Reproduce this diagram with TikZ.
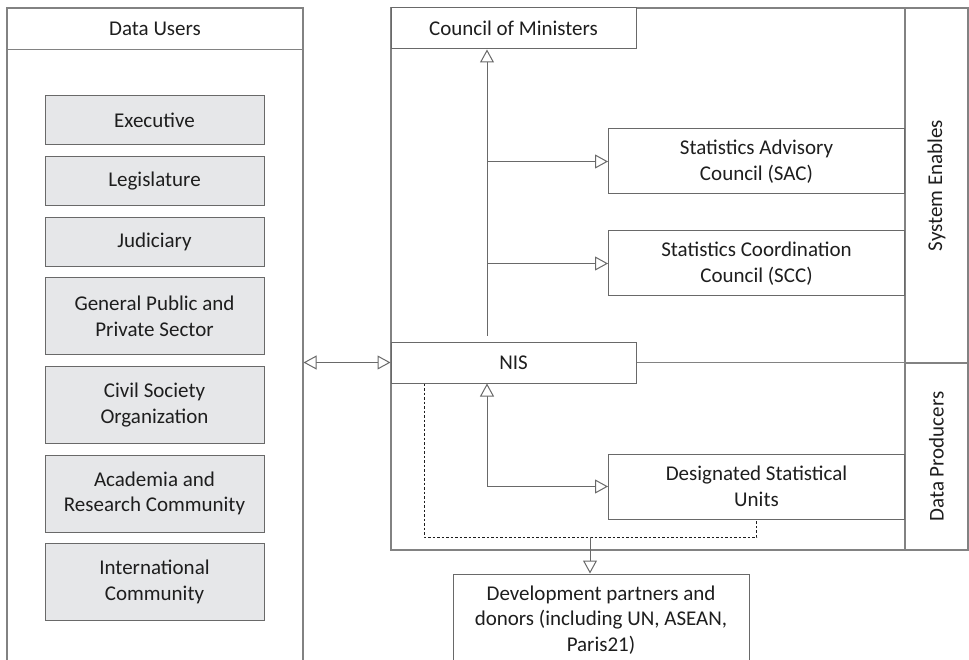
\documentclass[tikz,border=0pt]{standalone}
\usepackage{fontspec}
\setmainfont{Carlito}
\usetikzlibrary{arrows.meta, positioning, calc}
\definecolor{framegray}{RGB}{130,130,130}
\definecolor{edgegray}{RGB}{105,105,105}
\definecolor{usergray}{RGB}{230,231,233}
\definecolor{inkgray}{RGB}{30,30,30}

\begin{document}
\begin{tikzpicture}[
    x=1pt, y=-1pt,
    node distance=10.6pt,
    font=\fontsize{21}{25.5}\selectfont,
    text=inkgray,
    % Block styles
    panel/.style={
        rectangle, draw=framegray, fill=white,
        line width=1.1pt, inner sep=0pt
    },
    whitebox/.style={
        rectangle, draw=edgegray, fill=white,
        align=center, line width=1pt, inner sep=2pt
    },
    userbox/.style={
        rectangle, draw=edgegray, fill=usergray,
        minimum width=219pt, minimum height=49pt,
        align=center, line width=1pt, inner sep=2pt
    },
    doublebox/.style={
        userbox, minimum height=77pt
    },
    striplabel/.style={
        rectangle, draw=framegray, rotate=90,
        minimum height=63pt, line width=1.1pt, inner sep=0pt
    },
    openarrow/.style={
        -{Triangle[open, length=13pt, width=14pt, fill=white]},
        draw=edgegray, line width=1pt
    },
    biarrow/.style={
        {Triangle[open, length=13pt, width=14pt, fill=white]}-{Triangle[open, length=13pt, width=14pt, fill=white]},
        draw=edgegray, line width=1pt
    },
    plainline/.style={
        draw=edgegray, line width=1pt
    },
    dotline/.style={
        draw=inkgray, line width=0.9pt, dash pattern=on 2.5pt off 2pt
    },
]
\clip (0,0) rectangle (969,660);

% ===== DATA USERS PANEL =====
\node[panel, minimum width=296pt, minimum height=680pt] (users) at (155,348) {};
\node[minimum width=296pt, minimum height=41pt] (usershead) at (155,28.5) {Data Users};
\draw[panel] (usershead.south west) -- (usershead.south east);

\node[userbox] (exec) at (154.5,120.5) {Executive};
\node[userbox, below=of exec] (legis) {Legislature};
\node[userbox, below=of legis] (judic) {Judiciary};
\node[doublebox, below=of judic] (public) {General Public and\\Private Sector};
\node[doublebox, below=of public] (civil) {Civil Society\\Organization};
\node[doublebox, below=of civil] (academia) {Academia and\\Research Community};
\node[doublebox, below=of academia] (intl) {International\\Community};

% ===== GOVERNMENT FRAME =====
\node[panel, minimum width=577pt, minimum height=542pt] (govframe) at (679.5,279) {};
\node[striplabel, minimum width=355pt] (enables) at (936.5,185.5) {System Enables};
\node[striplabel, minimum width=187pt] (producers) at (936.5,456.5) {Data Producers};

\node[whitebox, minimum width=245pt, minimum height=41pt] (council) at (513.5,28.5) {Council of Ministers};
\node[whitebox, minimum width=296pt, minimum height=65pt] (sac) at (756.5,161.5) {Statistics Advisory\\Council (SAC)};
\node[whitebox, minimum width=296pt, minimum height=65pt] (scc) at (756.5,263.5) {Statistics Coordination\\Council (SCC)};
\node[whitebox, minimum width=245pt, minimum height=41pt] (nis) at (513.5,362.5) {NIS};
\node[whitebox, minimum width=296pt, minimum height=65pt] (dsu) at (756.5,486.5) {Designated Statistical\\Units};

% ===== PARTNERS =====
\node[whitebox, minimum width=296pt, minimum height=92pt] (partners) at (601,620) {Development partners and\\donors (including UN, ASEAN,\\Paris21)};

% ===== ARROWS =====
\coordinate (spine) at (487,0);
\coordinate (dashcorner) at (424,537);
\coordinate (relay) at (590,537);

% NIS to council and councils
\draw[openarrow, shorten <=6pt] (nis.north -| spine) -- (council.south -| spine);
\draw[openarrow] (spine |- sac.west) -- (sac.west);
\draw[openarrow] (spine |- scc.west) -- (scc.west);

% NIS and designated units
\draw[biarrow] (nis.south -| spine) |- (dsu.west);

% Users and NIS
\draw[biarrow] (users.east |- nis.west) -- (nis.west);

% Divider between enablers and producers
\draw[plainline, draw=framegray] (nis.east) -- (nis.east -| producers.north);

% Reporting to partners
\draw[dotline] (nis.south -| dashcorner) -- (dashcorner) -| (dsu.south);
\draw[openarrow] (relay) -- (partners.north -| relay);

\end{tikzpicture}
\end{document}
